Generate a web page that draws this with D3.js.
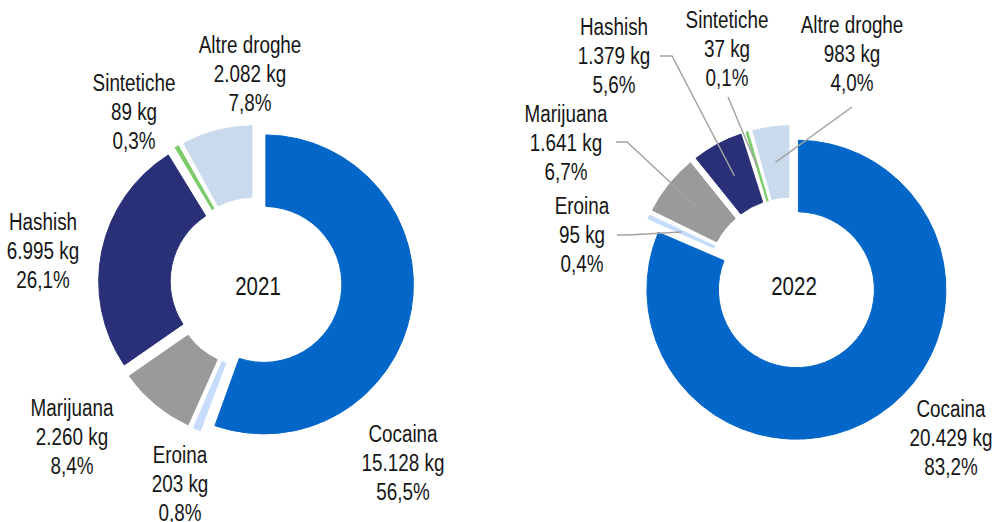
<!DOCTYPE html>
<html>
<head>
<meta charset="utf-8">
<script src="https://cdn.jsdelivr.net/npm/d3@7"></script>
<style>
  body { margin: 0; background: #fff; }
  text { font-family: "Liberation Sans", Arial, sans-serif; fill: #161616; }
</style>
</head>
<body>
<svg id="chart" width="994" height="522"></svg>
<script>
// data
var categories = ["Cocaina", "Eroina", "Marijuana", "Hashish", "Sintetiche", "Altre droghe"];
var years = ["2021", "2022"];
var kg2021 = [15128, 203, 2260, 6995, 89, 2082];
var pct2021 = ["56,5%", "0,8%", "8,4%", "26,1%", "0,3%", "7,8%"];
var kg2022 = [20429, 95, 1641, 1379, 37, 983];
var pct2022 = ["83,2%", "0,4%", "6,7%", "5,6%", "0,1%", "4,0%"];

// layout: label anchors and leader starts, relative to each donut centre
var labels2021 = [[147, 159], [-76, 180], [-184, 133], [-213, -53], [-122, -192], [-6, -230]];
var labels2022 = [[159, 134], [-210, -69], [-226, -161], [-178, -248], [-65, -255], [60, -250]];
var leaders2022 = [null, [[-175, -48], [-164, -48]], [[-176, -141], [-165, -141]],
  [[-132, -227], [-120, -227]], [[-64, -186]], [[60, -176]]];

var palette = ["#0366c9", "#c6dcfa", "#9a9a9a", "#2a3078", "#7bcb6a", "#cadaed"];

var svg = d3.select("#chart");
var it = d3.formatLocale({decimal: ",", thousands: ".", grouping: [3], currency: ["", " €"]});
var fmtKg = it.format(",");

var innerR = 78, outerR = 149.5, explode = 8, gap = 4, lineH = 29;
var narrow = 0.82; // Arial Narrow look from Liberation Sans

var color = d3.scaleOrdinal().domain(categories).range(palette);
var pie = d3.pie().sort(null).padAngle(gap / 150);
var arc = d3.arc().innerRadius(innerR).outerRadius(outerR).padRadius(150);

function thin(d) { return (d.endAngle - d.startAngle - d.padAngle) * outerR < 8; }

function push(d, dist) {
  var c = arc.centroid(d), len = Math.hypot(c[0], c[1]);
  return [c[0] / len * dist, c[1] / len * dist];
}

var charts = [
  {year: years[0], kg: kg2021, pct: pct2021, cx: 256, cy: 283, labels: labels2021, leaders: null},
  {year: years[1], kg: kg2022, pct: pct2022, cx: 792, cy: 283, labels: labels2022, leaders: leaders2022}
];

charts.forEach(function(c) {
  var g = svg.append("g").attr("transform", "translate(" + c.cx + "," + c.cy + ")");
  var arcs = pie(c.kg);

  g.append("g")
    .selectAll("path")
    .data(arcs)
    .enter().append("path")
    .attr("transform", function(d) { var p = push(d, explode); return "translate(" + p[0] + "," + p[1] + ")"; })
    .attr("fill", function(d, i) { return color(categories[i]); })
    .attr("stroke", function(d, i) { return color(categories[i]); })
    .attr("stroke-width", function(d) { return thin(d) ? 1.5 : 1; })
    .attr("d", function(d) {
      if (thin(d)) return arc({startAngle: d.startAngle + d.padAngle / 2, endAngle: d.endAngle - d.padAngle / 2, padAngle: 0});
      return arc(d);
    });

  if (c.leaders) {
    var line = d3.line();
    g.append("g")
      .selectAll("path")
      .data(arcs.filter(function(d, i) { return c.leaders[i]; }))
      .enter().append("path")
      .attr("fill", "none")
      .attr("stroke", "#a3a3a3")
      .attr("stroke-width", 1.5)
      .attr("d", function(d) {
        var cen = arc.centroid(d), p = push(d, explode);
        return line(c.leaders[d.index].concat([[cen[0] + p[0], cen[1] + p[1]]]));
      });
  }

  var lab = g.append("g")
    .attr("font-size", 23)
    .attr("text-anchor", "middle")
    .selectAll("text")
    .data(arcs)
    .enter().append("text")
    .attr("transform", function(d, i) {
      return "translate(" + c.labels[i][0] + "," + c.labels[i][1] + ") scale(" + narrow + ",1)";
    });

  lab.selectAll("tspan")
    .data(function(d, i) { return [categories[i], fmtKg(d.value) + " kg", c.pct[i]]; })
    .enter().append("tspan")
    .attr("x", 0)
    .attr("dy", function(d, j) { return j ? lineH : 0; })
    .text(function(d) { return d; });

  g.append("text")
    .attr("transform", "translate(2,12) scale(" + narrow + ",1)")
    .attr("font-size", 25)
    .attr("text-anchor", "middle")
    .text(c.year);
});
</script>
</body>
</html>
